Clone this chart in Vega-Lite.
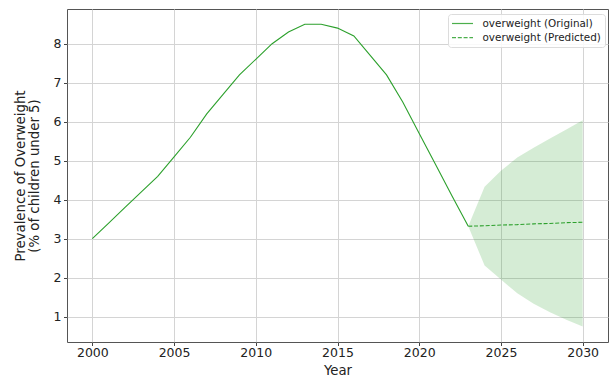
{
  "$schema": "https://vega.github.io/schema/vega-lite/v6.json",
  "width": 541,
  "height": 333,
  "autosize": {"type": "none"},
  "padding": {"left": 67, "top": 9, "right": 8, "bottom": 37},
  "background": "white",
  "datasets": {
    "series": [
      {"year": 2000, "value": 3.0, "series": "overweight (Original)"},
      {"year": 2001, "value": 3.4, "series": "overweight (Original)"},
      {"year": 2002, "value": 3.8, "series": "overweight (Original)"},
      {"year": 2003, "value": 4.2, "series": "overweight (Original)"},
      {"year": 2004, "value": 4.6, "series": "overweight (Original)"},
      {"year": 2005, "value": 5.1, "series": "overweight (Original)"},
      {"year": 2006, "value": 5.6, "series": "overweight (Original)"},
      {"year": 2007, "value": 6.2, "series": "overweight (Original)"},
      {"year": 2008, "value": 6.7, "series": "overweight (Original)"},
      {"year": 2009, "value": 7.2, "series": "overweight (Original)"},
      {"year": 2010, "value": 7.6, "series": "overweight (Original)"},
      {"year": 2011, "value": 8.0, "series": "overweight (Original)"},
      {"year": 2012, "value": 8.3, "series": "overweight (Original)"},
      {"year": 2013, "value": 8.5, "series": "overweight (Original)"},
      {"year": 2014, "value": 8.5, "series": "overweight (Original)"},
      {"year": 2015, "value": 8.4, "series": "overweight (Original)"},
      {"year": 2016, "value": 8.2, "series": "overweight (Original)"},
      {"year": 2017, "value": 7.7, "series": "overweight (Original)"},
      {"year": 2018, "value": 7.2, "series": "overweight (Original)"},
      {"year": 2019, "value": 6.5, "series": "overweight (Original)"},
      {"year": 2020, "value": 5.7, "series": "overweight (Original)"},
      {"year": 2021, "value": 4.9, "series": "overweight (Original)"},
      {"year": 2022, "value": 4.1, "series": "overweight (Original)"},
      {"year": 2023, "value": 3.32, "series": "overweight (Original)"},
      {"year": 2023, "value": 3.32, "series": "overweight (Predicted)"},
      {"year": 2024, "value": 3.33, "series": "overweight (Predicted)"},
      {"year": 2025, "value": 3.35, "series": "overweight (Predicted)"},
      {"year": 2026, "value": 3.36, "series": "overweight (Predicted)"},
      {"year": 2027, "value": 3.38, "series": "overweight (Predicted)"},
      {"year": 2028, "value": 3.39, "series": "overweight (Predicted)"},
      {"year": 2029, "value": 3.41, "series": "overweight (Predicted)"},
      {"year": 2030, "value": 3.42, "series": "overweight (Predicted)"}
    ],
    "band": [
      {"year": 2023, "lo": 3.32, "hi": 3.32},
      {"year": 2024, "lo": 2.31, "hi": 4.33},
      {"year": 2025, "lo": 1.95, "hi": 4.74},
      {"year": 2026, "lo": 1.6, "hi": 5.08},
      {"year": 2027, "lo": 1.33, "hi": 5.33},
      {"year": 2028, "lo": 1.11, "hi": 5.57},
      {"year": 2029, "lo": 0.92, "hi": 5.8},
      {"year": 2030, "lo": 0.75, "hi": 6.04}
    ]
  },
  "layer": [
    {
      "data": {"name": "band"},
      "mark": {"type": "area", "color": "#2ca02c", "opacity": 0.2},
      "encoding": {
        "x": {"field": "year", "type": "quantitative"},
        "y": {"field": "lo", "type": "quantitative"},
        "y2": {"field": "hi"}
      }
    },
    {
      "data": {"name": "series"},
      "mark": {"type": "line", "strokeWidth": 1.1, "color": "#2ca02c"},
      "encoding": {
        "x": {
          "field": "year",
          "type": "quantitative",
          "scale": {"domain": [1998.45, 2031.55], "nice": false, "zero": false},
          "axis": {
            "title": "Year",
            "values": [2000, 2005, 2010, 2015, 2020, 2025, 2030],
            "format": "d"
          }
        },
        "y": {
          "field": "value",
          "type": "quantitative",
          "scale": {"domain": [0.35, 8.89], "nice": false, "zero": false},
          "axis": {
            "title": ["Prevalence of Overweight", "(% of children under 5)"],
            "values": [1, 2, 3, 4, 5, 6, 7, 8]
          }
        },
        "strokeDash": {
          "field": "series",
          "type": "nominal",
          "scale": {
            "domain": ["overweight (Original)", "overweight (Predicted)"],
            "range": [[1000, 0.001], [4, 1.8]]
          },
          "legend": {"title": null}
        }
      }
    }
  ],
  "config": {
    "font": "DejaVu Sans",
    "view": {"stroke": "#555555", "strokeWidth": 1},
    "axis": {
      "domain": false,
      "grid": true,
      "gridColor": "#d4d4d4",
      "gridWidth": 1,
      "tickColor": "#444444",
      "tickSize": 3.5,
      "labelFont": "DejaVu Sans",
      "labelFontSize": 12.5,
      "labelColor": "#222222",
      "labelPadding": 2.5,
      "titleFont": "DejaVu Sans",
      "titleFontSize": 13.3,
      "titleFontWeight": "normal",
      "titleColor": "#222222"
    },
    "axisX": {"titlePadding": 5, "labelPadding": 0.5},
    "axisY": {"titlePadding": 12, "titleLineHeight": 13.5},
    "legend": {
      "orient": "none",
      "legendX": 381,
      "legendY": 5,
      "labelFont": "DejaVu Sans",
      "labelFontSize": 10.4,
      "labelColor": "#222222",
      "symbolType": "M-2.1,0H2.1",
      "symbolSize": 100,
      "symbolOffset": 5,
      "symbolStrokeColor": "#4caf4c",
      "symbolStrokeWidth": 1.2,
      "labelOffset": 14,
      "rowPadding": 2.2,
      "padding": 3.5,
      "fillColor": "rgba(255,255,255,0.85)",
      "strokeColor": "#dcdcdc",
      "cornerRadius": 3
    }
  }
}
